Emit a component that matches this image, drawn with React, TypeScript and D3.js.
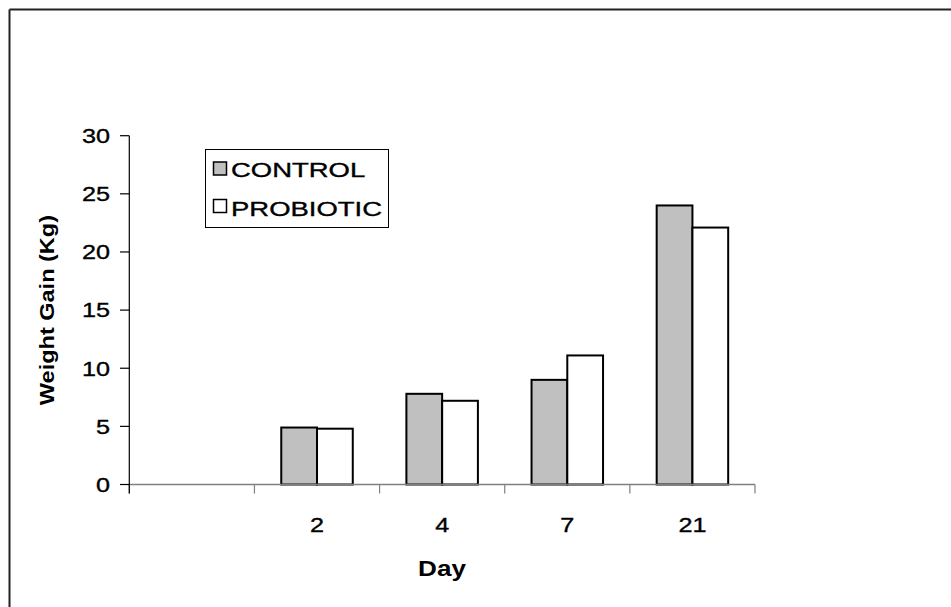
import React from "react";
import * as d3 from "d3";

const categories = ["", "2", "4", "7", "21"];
const seriesNames = ["CONTROL", "PROBIOTIC"];
const controlValues = [null, 4.9, 7.8, 9.0, 24.0];
const probioticValues = [null, 4.8, 7.2, 11.1, 22.1];
const yTicks = [0, 5, 10, 15, 20, 25, 30];
const seriesFills = ["#C0C0C0", "#FFFFFF"];

const FONT = "'Liberation Sans', Arial, Helvetica, sans-serif";

export default function App() {
  const W = 951;
  const H = 607;
  const x0 = 129.3, x1 = 755;
  const yBottom = 484.5, yTop = 135.7;

  const x = d3.scaleBand<string>().domain(categories).range([x0, x1]).paddingInner(0).paddingOuter(0);
  const band = x.bandwidth();
  const barW = band / 3.5;
  const xs = d3.scaleBand<string>().domain(seriesNames).range([0, barW * 2]).padding(0);
  const y = d3.scaleLinear().domain([0, 30]).range([yBottom, yTop]);

  const series = [controlValues, probioticValues];
  const boundaries = categories.map((c) => x(c) as number).concat([x1]);

  const tickSx = 1.23;
  const legSx = 1.34;
  const thin = { stroke: "#000", strokeWidth: 0.35 };

  return (
    <svg
      width={W}
      height={H}
      style={{ position: "absolute", left: 0, top: 0, display: "block", overflow: "hidden" }}
    >
      <rect x={0} y={0} width={W} height={H} fill="#fff" />
      {/* border (top & left visible) */}
      <line x1={9.5} y1={9.5} x2={W} y2={9.5} stroke="#222" strokeWidth={2} />
      <line x1={9.5} y1={9.5} x2={9.5} y2={H} stroke="#222" strokeWidth={2} />

      {/* bars */}
      {series.map((vals, si) =>
        categories.map((c, ci) => {
          const v = vals[ci];
          if (v == null) return null;
          const bx = (x(c) as number) + (band - barW * 2) / 2 + (xs(seriesNames[si]) as number);
          return (
            <rect
              key={`${si}-${ci}`}
              x={bx}
              y={y(v)}
              width={barW}
              height={yBottom - y(v)}
              fill={seriesFills[si]}
              stroke="#000"
              strokeWidth={2}
            />
          );
        })
      )}

      {/* x axis */}
      <line x1={x0} y1={yBottom} x2={x1} y2={yBottom} stroke="#808080" strokeWidth={1.5} />
      {boundaries.map((bx, i) => (
        <line key={`xt${i}`} x1={bx} y1={yBottom} x2={bx} y2={yBottom + 9} stroke="#808080" strokeWidth={1.2} />
      ))}
      {categories.map((c, i) =>
        c ? (
          <text
            key={`xl${i}`}
            transform={`translate(${(x(c) as number) + band / 2},532) scale(${tickSx},1)`}
            textAnchor="middle"
            fontFamily={FONT}
            fontSize={20.5}
            fill="#000"
            {...thin}
          >
            {c}
          </text>
        ) : null
      )}

      {/* y axis */}
      <line x1={x0} y1={yTop} x2={x0} y2={yBottom + 9} stroke="#000" strokeWidth={1.2} />
      {yTicks.map((t) => (
        <g key={`yt${t}`}>
          <line x1={120} y1={y(t)} x2={x0} y2={y(t)} stroke="#000" strokeWidth={1.2} />
          <text
            transform={`translate(110,${y(t) + 7.3}) scale(${tickSx},1)`}
            textAnchor="end"
            fontFamily={FONT}
            fontSize={20.5}
            fill="#000"
            {...thin}
          >
            {t}
          </text>
        </g>
      ))}

      {/* axis titles */}
      <text
        transform={`translate(442,576) scale(1.17,1)`}
        textAnchor="middle"
        fontFamily={FONT}
        fontWeight="bold"
        fontSize={22.3}
        fill="#000"
      >
        Day
      </text>
      <text
        transform={`translate(54,${(yTop + yBottom) / 2}) rotate(-90) scale(1.12,1)`}
        textAnchor="middle"
        fontFamily={FONT}
        fontWeight="bold"
        fontSize={21}
        fill="#000"
      >
        Weight Gain (Kg)
      </text>

      {/* legend */}
      <rect x={205.5} y={149.5} width={183} height={78} fill="#fff" stroke="#000" strokeWidth={1} />
      {seriesNames.map((n, i) => (
        <g key={`lg${i}`}>
          <rect x={213.5} y={162 + i * 37.5} width={13} height={13} fill={seriesFills[i]} stroke="#000" strokeWidth={1.5} />
          <text
            transform={`translate(231,${177.3 + i * 38.5}) scale(${legSx},1)`}
            fontFamily={FONT}
            fontSize={20.5}
            fill="#000"
            {...thin}
          >
            {n}
          </text>
        </g>
      ))}
    </svg>
  );
}
